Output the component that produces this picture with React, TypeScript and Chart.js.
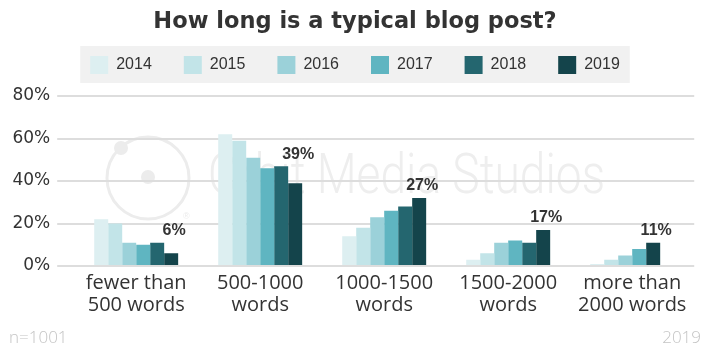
import React, { useEffect, useRef } from 'react';
import { Chart, registerables } from 'chart.js';

Chart.register(...registerables);

const categories = [
  ['fewer than', '500 words'],
  ['500-1000', 'words'],
  ['1000-1500', 'words'],
  ['1500-2000', 'words'],
  ['more than', '2000 words'],
];
const years = ['2014', '2015', '2016', '2017', '2018', '2019'];
const values2014 = [22, 62, 14, 3, 1];
const values2015 = [20, 59, 18, 6, 3];
const values2016 = [11, 51, 23, 11, 5];
const values2017 = [10, 46, 26, 12, 8];
const values2018 = [11, 47, 28, 11, 11];
const values2019 = [6, 39, 32, 17, null];
const labels2019 = ['6%', '39%', '27%', '17%', '11%'];
const yTicks = [0, 20, 40, 60, 80];
const sampleNote = 'n=1001';
const yearNote = '2019';
const watermarkText = 'Orbit Media Studios';

const colors = ['#ddeff1', '#c2e4e8', '#9bd1d9', '#5fb5c1', '#24666f', '#14444b'];

const watermarkPlugin = {
  id: 'watermark',
  beforeDraw(chart: any) {
    const ctx = chart.ctx;
    ctx.save();
    ctx.strokeStyle = '#ececec';
    ctx.fillStyle = '#ececec';
    ctx.lineWidth = 3;
    ctx.beginPath();
    ctx.arc(148, 178, 41, 0, Math.PI * 2);
    ctx.stroke();
    ctx.beginPath();
    ctx.arc(148, 177, 7, 0, Math.PI * 2);
    ctx.fill();
    ctx.beginPath();
    ctx.arc(121, 148, 7, 0, Math.PI * 2);
    ctx.fill();
    ctx.font = '9px "Liberation Sans"';
    ctx.fillText('®', 183, 217);
    ctx.fillStyle = '#eeeeee';
    ctx.font = '300 55px Roboto';
    ctx.textBaseline = 'alphabetic';
    ctx.textAlign = 'left';
    const w = ctx.measureText(watermarkText).width;
    ctx.translate(208, 193);
    ctx.scale(397 / w, 1);
    ctx.fillText(watermarkText, 0, 0);
    ctx.restore();

    const lg = chart.legend;
    if (lg && lg.legendHitBoxes && lg.legendHitBoxes.length) {
      const hb = lg.legendHitBoxes;
      let l = Infinity, r = -Infinity, t = Infinity, b = -Infinity;
      hb.forEach((h: any) => {
        l = Math.min(l, h.left);
        r = Math.max(r, h.left + h.width);
        t = Math.min(t, h.top);
        b = Math.max(b, h.top + h.height);
      });
      ctx.save();
      ctx.fillStyle = '#f1f1f1';
      ctx.fillRect(l - 10, t - 10, r - l + 20, b - t + 19);
      ctx.restore();
    }
  },
};

const labelsPlugin = {
  id: 'labels2019',
  afterDatasetsDraw(chart: any) {
    const ctx = chart.ctx;
    ctx.save();
    ctx.font = 'bold 16px "Liberation Sans"';
    ctx.fillStyle = '#333333';
    ctx.textAlign = 'center';
    ctx.textBaseline = 'middle';
    categories.forEach((_, j) => {
      const present = chart.data.datasets
        .map((ds: any, i: number) => ({ ds, i }))
        .filter((o: any) => o.ds.data[j] != null)
        .map((o: any) => chart.getDatasetMeta(o.i).data[j]);
      if (present.length < 2) return;
      const last = present[present.length - 1];
      const prev = present[present.length - 2];
      const y = Math.min(last.y, prev.y);
      ctx.fillText(labels2019[j], last.x + 3, y - 12);
    });
    ctx.restore();
  },
};

const footerPlugin = {
  id: 'footerNotes',
  afterDraw(chart: any) {
    const ctx = chart.ctx;
    ctx.save();
    ctx.font = '300 17px "Open Sans"';
    ctx.fillStyle = '#c4c4c4';
    ctx.textBaseline = 'middle';
    ctx.textAlign = 'left';
    ctx.fillText(sampleNote, 9, 338);
    ctx.textAlign = 'right';
    ctx.fillText(yearNote, 701, 338);
    ctx.restore();
  },
};

export default function App() {
  const ref = useRef<HTMLCanvasElement | null>(null);
  useEffect(() => {
    if (!ref.current) return;
    const seriesValues = [values2014, values2015, values2016, values2017, values2018, values2019];
    const chart = new Chart(ref.current, {
      type: 'bar',
      data: {
        labels: categories as any,
        datasets: years.map((y, i) => ({
          label: y,
          data: seriesValues[i] as any,
          backgroundColor:
            i === 4
              ? (c: any) => (c.dataIndex === 4 ? colors[5] : colors[4])
              : colors[i],
          borderWidth: 0,
          categoryPercentage: 0.677,
          barPercentage: 1,
        })),
      },
      options: {
        animation: false,
        responsive: true,
        maintainAspectRatio: false,
        layout: { padding: { left: 5.4, right: 5.4, top: 0, bottom: 41 } },
        plugins: {
          title: {
            display: true,
            text: 'How long is a typical blog post?',
            color: '#333333',
            font: { family: '"DejaVu Sans"', size: 22.5, weight: 'bold' as any },
            padding: { top: 9, bottom: -12 },
          },
          legend: {
            display: true,
            position: 'top',
            labels: {
              boxWidth: 18,
              boxHeight: 18,
              padding: 32,
              color: '#333333',
              font: { family: '"Liberation Sans"', size: 16 },
            },
          },
          tooltip: { enabled: false },
        },
        scales: {
          x: {
            grid: { display: false },
            border: { display: false },
            ticks: {
              color: '#333333',
              font: { family: '"Open Sans"', size: 20, weight: '400' as any, lineHeight: 1.1 },
              padding: -2,
              maxRotation: 0,
              autoSkip: false,
            },
          },
          y: {
            min: yTicks[0],
            max: yTicks[yTicks.length - 1],
            afterBuildTicks: (axis: any) => {
              axis.ticks = yTicks.map((v) => ({ value: v }));
            },
            grid: {
              color: '#dddddd',
              lineWidth: 2,
              tickLength: 17,
              tickColor: '#dddddd',
              drawTicks: true,
            },
            border: { display: false },
            ticks: {
              color: '#333333',
              font: { family: '"DejaVu Sans"', size: 17 },
              padding: 7,
              callback: (v: any) => v + '%',
            },
          },
          yRight: {
            position: 'right',
            min: yTicks[0],
            max: yTicks[yTicks.length - 1],
            grid: { display: false, drawTicks: false },
            border: { display: false },
            ticks: { display: false },
            afterFit: (axis: any) => {
              axis.width = 10.4;
            },
          },
        },
      },
      plugins: [
        {
          id: 'legendSpace',
          beforeInit(chart: any) {
            const lg = chart.legend;
            if (lg) {
              const orig = lg.fit.bind(lg);
              lg.fit = function () {
                orig();
                this.height += 12;
              };
            }
          },
        },
        watermarkPlugin,
        labelsPlugin,
        footerPlugin,
      ],
    });
    return () => chart.destroy();
  }, []);
  return (
    <div style={{ position: 'fixed', left: 0, top: 0, width: 710, height: 355, background: '#ffffff' }}>
      <canvas ref={ref} />
    </div>
  );
}
